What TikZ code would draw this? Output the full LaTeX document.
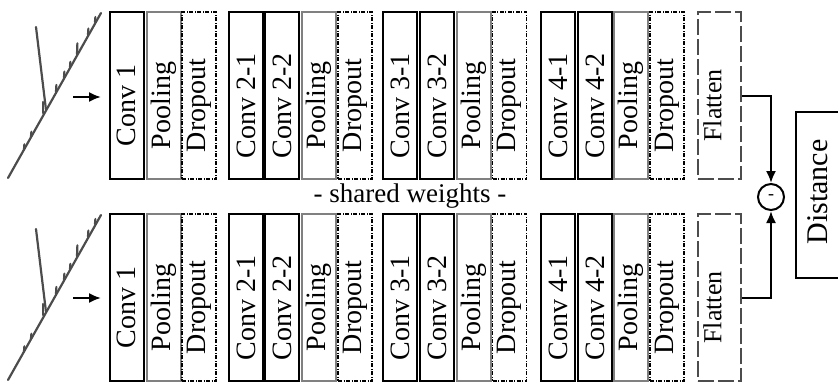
\documentclass[tikz,border=0pt]{standalone}
\usepackage{fontspec}
\setmainfont{Liberation Serif}
\usetikzlibrary{arrows.meta}

\tikzset{
  layer/.style={minimum width=34pt, minimum height=167pt, inner sep=0pt, line width=2pt},
  conv/.style={layer, draw=black},
  pool/.style={layer, draw=black!50},
  drop/.style={layer, draw=black, line width=1.2pt,
    dash pattern=on 4pt off 1.5pt on 1pt off 1.5pt},
  flat/.style={layer, minimum width=43pt, draw=black!70,
    dash pattern=on 16pt off 4pt},
  lbl/.style={rotate=90, font=\fontsize{28}{30}\selectfont, inner sep=0pt},
  sketch/.style={draw=black!70, line width=2.2pt, line cap=round, line join=round},
  arr/.style={line width=2pt, -{Latex[length=12pt,width=10pt]}},
  signal/.pic={
    \draw[sketch] (8,178) -- (101,13);
    \draw[sketch] (36,27) -- (46,110);
    \draw[sketch] (43,102) -- (43,113);
    \foreach \x/\h in {24/5,31/5,56/7,64/6,70/5,77/11,88/6,95/5}
      \draw[sketch] (\x,{178-1.793*(\x-8)}) -- ++(0.4,-\h);
  }
}

% one layer: box plus rotated caption
\newcommand\layerbox[6]{%
  \node[#2] (#1) at (#3,#4) {};
  \node[lbl,#5] (#1t) at ([yshift=-10pt]#1.center) {#6};
}

\begin{document}
\begin{tikzpicture}[x=1pt,y=-1pt]
\useasboundingbox (0,0) rectangle (838,381);

% input signals
\pic at (0,0) {signal};
\pic at (0,202) {signal};

\foreach \r/\yc in {a/95.5,b/297.5}{
  \layerbox{\r c1}{conv}{126.5}{\yc}{}{Conv 1}
  \layerbox{\r p1}{pool}{163.5}{\yc}{}{Pooling}
  \layerbox{\r d1}{drop}{199}{\yc}{}{Dropout}
  \layerbox{\r c21}{conv}{246}{\yc}{}{Conv 2-1}
  \layerbox{\r c22}{conv}{282}{\yc}{}{Conv 2-2}
  \layerbox{\r p2}{pool}{318.5}{\yc}{}{Pooling}
  \layerbox{\r d2}{drop}{355}{\yc}{}{Dropout}
  \layerbox{\r c31}{conv}{400}{\yc}{}{Conv 3-1}
  \layerbox{\r c32}{conv}{437}{\yc}{}{Conv 3-2}
  \layerbox{\r p3}{pool}{473.5}{\yc}{}{Pooling}
  \layerbox{\r d3}{drop}{509.5}{\yc}{}{Dropout}
  \layerbox{\r c41}{conv}{558}{\yc}{}{Conv 4-1}
  \layerbox{\r c42}{conv}{595}{\yc}{}{Conv 4-2}
  \layerbox{\r p4}{pool}{631}{\yc}{}{Pooling}
  \layerbox{\r d4}{drop}{667}{\yc}{}{Dropout}
  \layerbox{\r f}{flat}{719.5}{\yc}{yshift=7pt, font=\fontsize{26}{28}\selectfont}{Flatten}
}

% inputs into the first convolution
\coordinate (ina) at (73,97);
\coordinate (inb) at (73,298);
\draw[arr, shorten >=7.5pt] (ina) -- (ina -| ac1.west);
\draw[arr, shorten >=7.5pt] (inb) -- (inb -| bc1.west);

\node[font=\fontsize{27}{30}\selectfont, inner sep=0pt] (shared) at (410,196) {- shared weights -};

% difference of the two embeddings
\node[circle, draw, line width=2pt, minimum size=26pt, inner sep=0pt,
      font=\fontsize{18}{20}\selectfont] (diff) at (771,197) {-};
\draw[arr] (af.east) -| (diff.north);
\draw[arr] (bf.east) -| (diff.south);

\node[draw, line width=2pt, minimum width=44pt, minimum height=166pt, inner sep=0pt] (dist) at (818,195) {};
\node[lbl, font=\fontsize{30}{32}\selectfont] (distt) at ([yshift=3pt]dist.center) {Distance};
\end{tikzpicture}
\end{document}
